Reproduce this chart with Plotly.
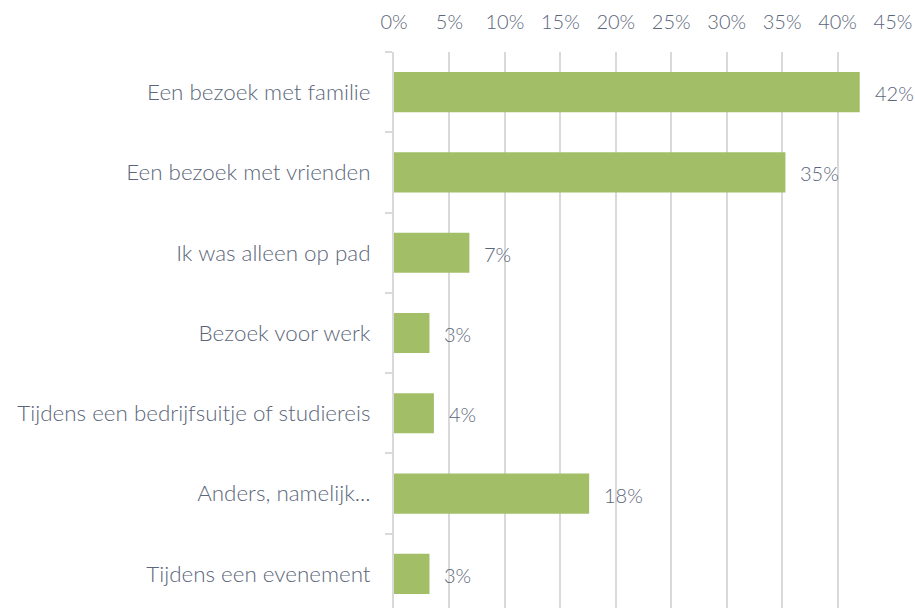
import plotly.graph_objects as go

categories = [
    "Een bezoek met familie",
    "Een bezoek met vrienden",
    "Ik was alleen op pad",
    "Bezoek voor werk",
    "Tijdens een bedrijfsuitje of studiereis",
    "Anders, namelijk...",
    "Tijdens een evenement",
]
values = [42.0, 35.3, 6.8, 3.2, 3.6, 17.6, 3.2]
value_labels = ["42%", "35%", "7%", "3%", "4%", "18%", "3%"]
x_ticks = [0, 5, 10, 15, 20, 25, 30, 35, 40, 45]
x_tick_labels = [f"{t}%" for t in x_ticks]

FONT = "Lato"
TXT = "#5b667a"

fig = go.Figure()
fig.add_trace(go.Bar(
    y=categories, x=values, orientation="h",
    marker=dict(color="#a2bf68", line=dict(width=0)),
    width=0.5,
    hoverinfo="skip",
))

for c, v, t in zip(categories, values, value_labels):
    fig.add_annotation(x=v, y=c, text=t, showarrow=False, xanchor="left",
                       xshift=13, yshift=-1,
                       font=dict(family=FONT, size=20, color=TXT, weight=300))

fig.update_layout(
    width=915, height=608,
    margin=dict(l=394, r=22, t=52, b=0),
    paper_bgcolor="white", plot_bgcolor="white",
    showlegend=False,
    font=dict(family=FONT, size=22, color=TXT, weight=300),
    xaxis=dict(
        side="top", range=[0, 45], tickvals=x_ticks, ticktext=x_tick_labels,
        showgrid=True, gridcolor="#d9d9d9", gridwidth=2,
        zeroline=False, showline=False, ticks="",
        tickfont=dict(family=FONT, size=20, color=TXT, weight=300),
        ticklabelstandoff=18,
        fixedrange=True,
    ),
    yaxis=dict(
        type="category", categoryorder="array", categoryarray=categories,
        range=[6.425, -0.5],
        showline=True, linecolor="#d9d9d9", linewidth=2,
        ticks="outside", tickson="boundaries", ticklen=7, tickcolor="#d9d9d9", tickwidth=2,
        showgrid=False, zeroline=False,
        tickfont=dict(family=FONT, size=22.4, color=TXT, weight=300),
        ticklabelstandoff=17,
        fixedrange=True,
    ),
)

fig.write_html(
    "out.html",
    config={"displayModeBar": False, "staticPlot": True},
    post_script="document.body.style.margin='0';document.body.style.overflow='hidden';",
)
